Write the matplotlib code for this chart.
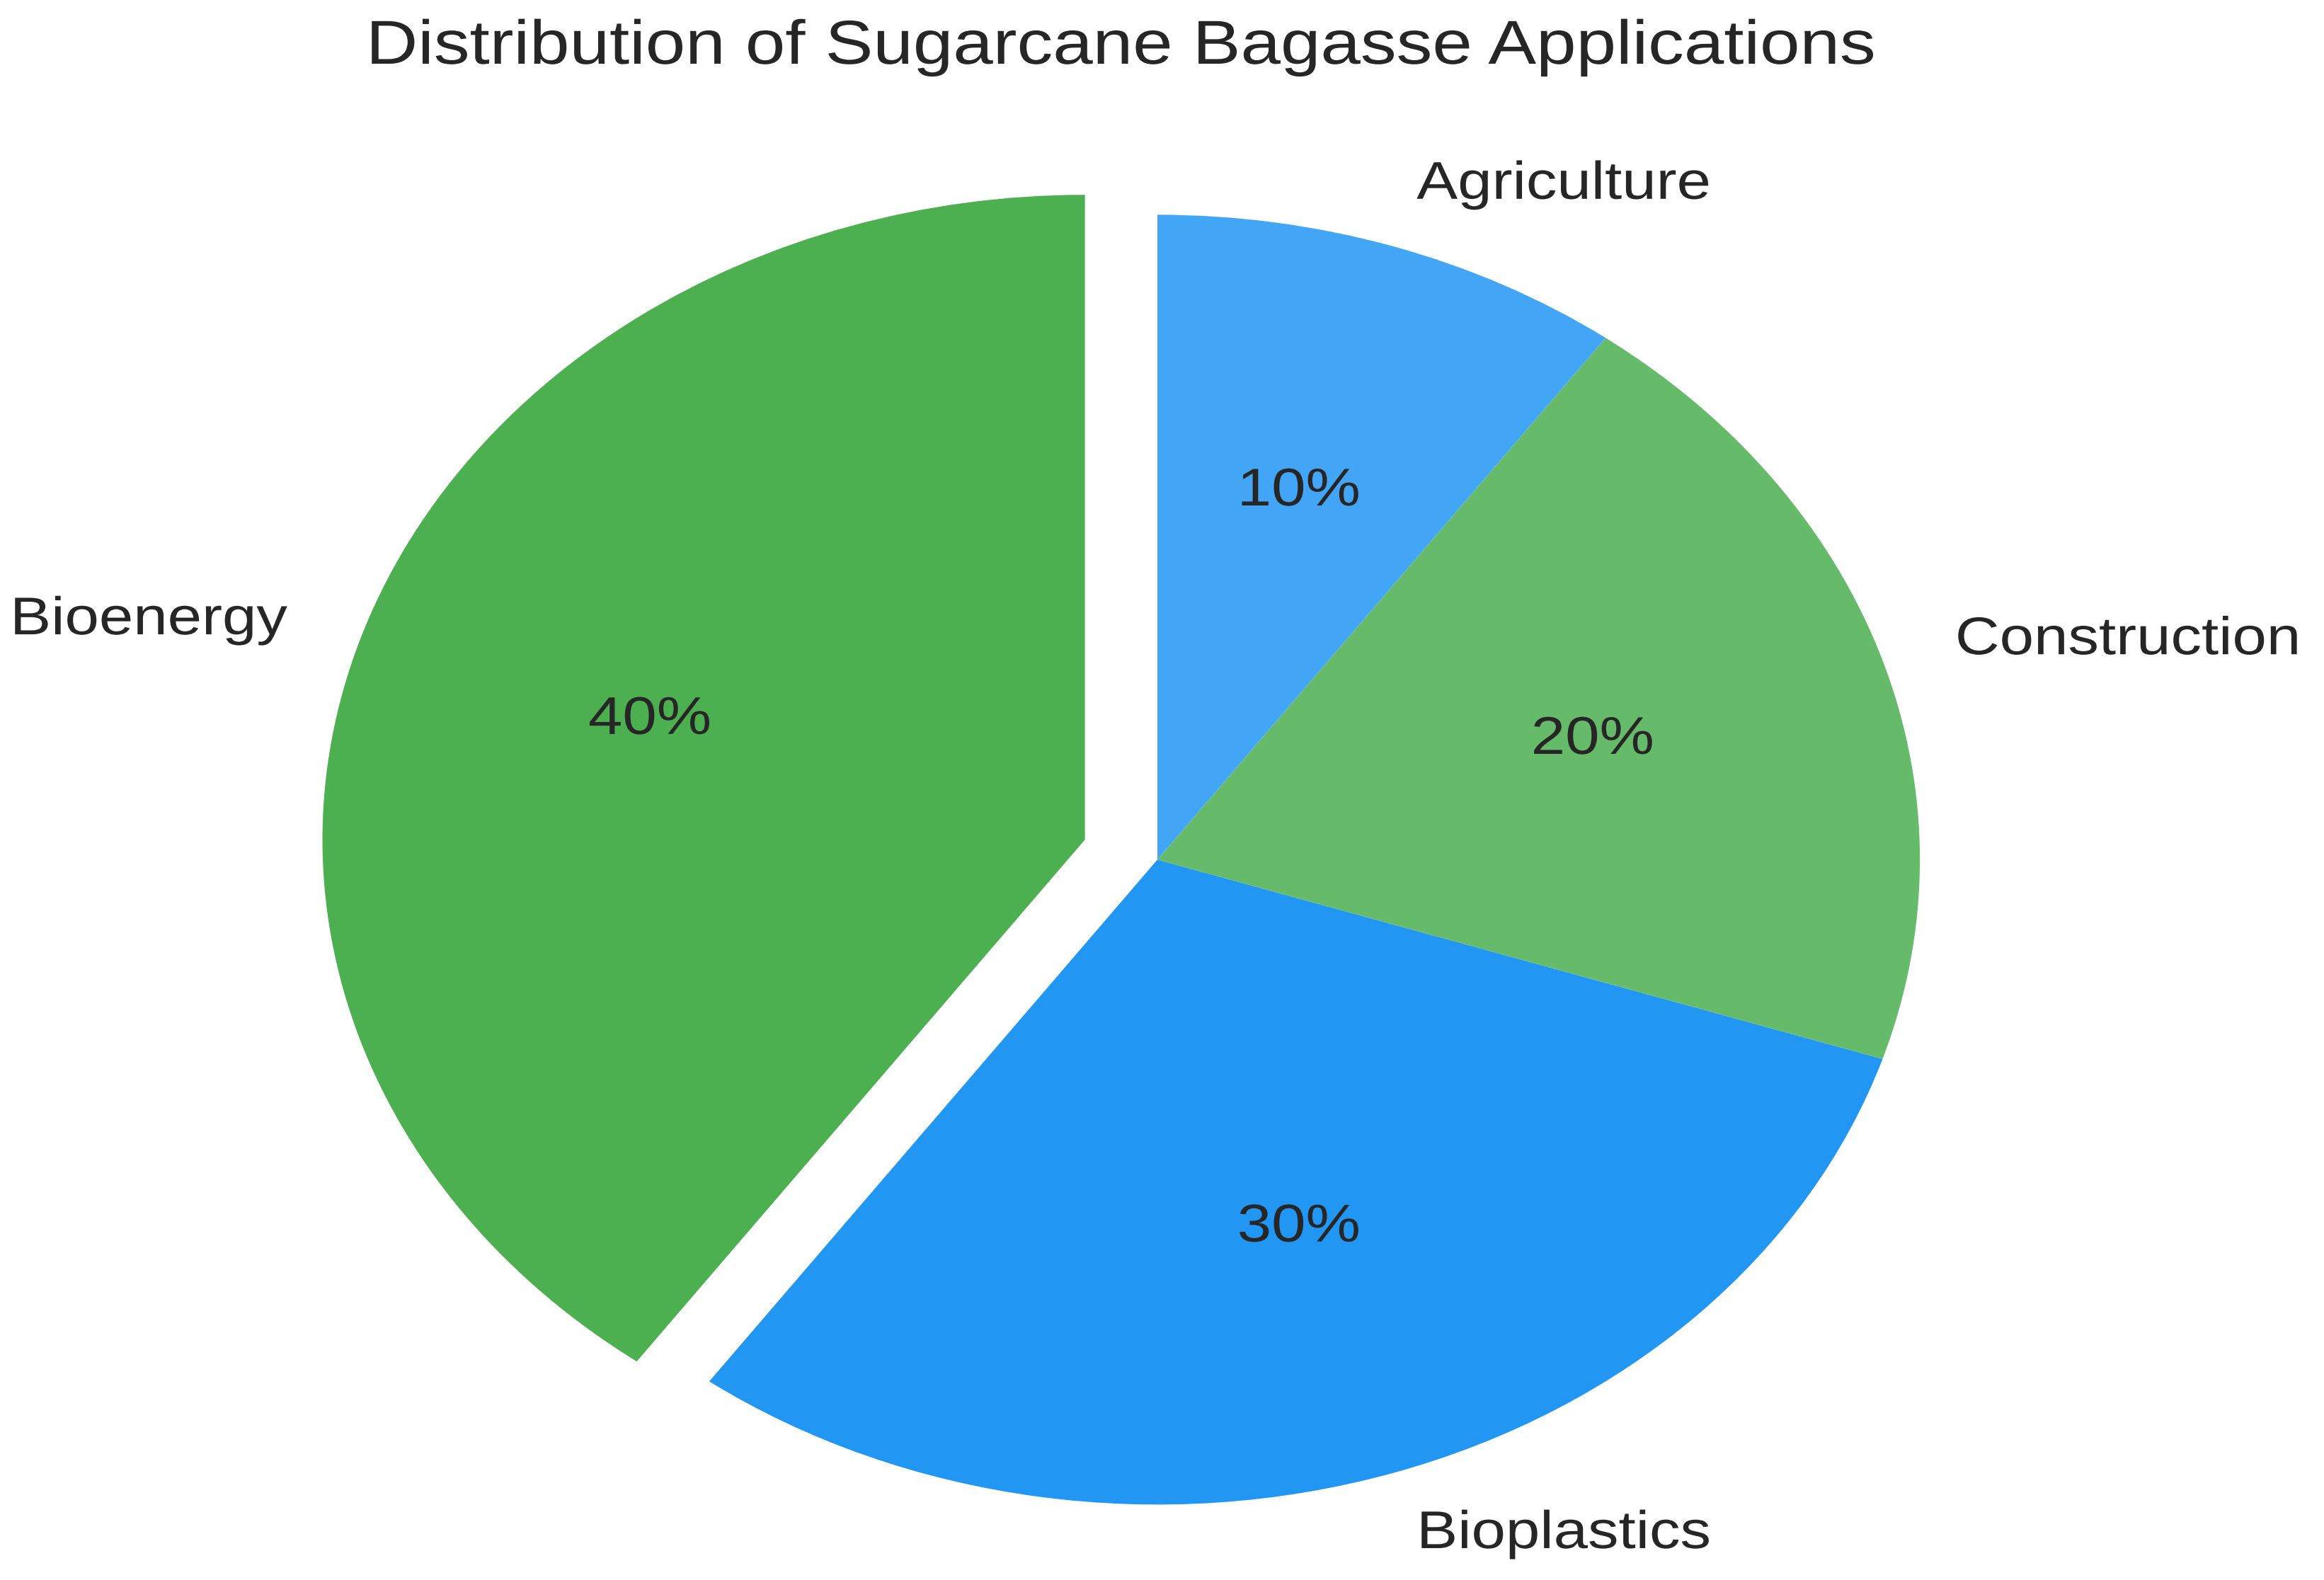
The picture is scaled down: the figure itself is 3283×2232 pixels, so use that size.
import matplotlib
matplotlib.use('Agg')
import matplotlib.pyplot as plt
from matplotlib import patheffects
from matplotlib.transforms import Affine2D

## data ##
labels = ['Bioenergy', 'Bioplastics', 'Construction', 'Agriculture']
shares = [40, 30, 20, 10]
colors = ['#4CAF50', '#2196F3', '#66BB6A', '#42A5F5']
explode = [0.1, 0, 0, 0]

plt.rcParams['font.family'] = ['Liberation Sans', 'DejaVu Sans']
text_color = '#262626'
stretch = 1.16  # the reference is drawn wider than tall, text included


class StretchX(patheffects.AbstractPathEffect):
    """widen a text horizontally around its anchor x (display coords)"""
    def __init__(self, sx, x0):
        super().__init__()
        self._sx = sx
        self._x0 = x0

    def draw_path(self, renderer, gc, tpath, affine, rgbFace=None):
        t = affine + Affine2D().translate(-self._x0, 0).scale(self._sx, 1).translate(self._x0, 0)
        renderer.draw_path(gc, tpath, t, rgbFace)


fig = plt.figure(figsize=(3283/300, 2232/300), dpi=300)
ax = fig.add_axes([0, 0, 1, 1])

wedges, texts, autotexts = ax.pie(shares, labels=labels, colors=colors,
                                  explode=explode, startangle=90,
                                  autopct='%1.0f%%',
                                  textprops={'fontsize': 18, 'color': text_color})

# pie is stretched in the reference (not circular)
ax.set_aspect('auto')
ax.set_xlim(-1.518, 1.530)
ax.set_ylim(-1.117, 1.333)
ax.axis('off')

title = fig.text(0.4825, 1 - 90/2232, 'Distribution of Sugarcane Bagasse Applications',
                 ha='center', va='baseline', fontsize=21, color=text_color)

for t in list(texts) + list(autotexts) + [title]:
    x0 = t.get_transform().transform(t.get_position())[0]
    t.set_path_effects([StretchX(stretch, x0)])

fig.savefig('out.png', dpi=300, facecolor='white')
